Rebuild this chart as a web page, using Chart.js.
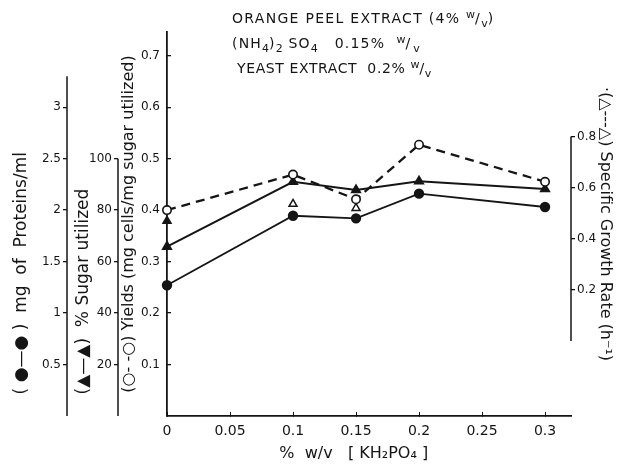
<!DOCTYPE html>
<html>
<head>
<meta charset="utf-8">
<script src="https://cdn.jsdelivr.net/npm/chart.js@4.4.1/dist/chart.umd.min.js"></script>
<style>
  body { margin: 0; background: #fff; }
  #wrap { position: relative; width: 621px; height: 465px; }
  #plot { position: absolute; left: 0; top: 0; }
  #note {
    position: absolute; left: 232px; top: 6px;
    font: 14px 'DejaVu Sans', sans-serif; color: #151515;
    line-height: 25px; white-space: nowrap;
  }
  #note sub, #note sup { font-size: 11px; line-height: 0; letter-spacing: 0; }
  #note sub { vertical-align: -4px; }
  #note sup { vertical-align: 5px; }
  .l1 { letter-spacing: 1.3px; }
  .l2 { letter-spacing: 1.2px; }
  .l2 sub { font-size: 12px; }
  .l3 { letter-spacing: 0.6px; }
  .wv { letter-spacing: 3px; }
</style>
</head>
<body>
<div id="wrap">
  <canvas id="plot" width="621" height="465"></canvas>
  <div id="note">
    <span class="l1">ORANGE PEEL EXTRACT (4% <sup>w</sup>/<sub>v</sub>)</span><br>
    <span class="l2">(NH<sub>4</sub>)<sub>2</sub> SO<sub>4</sub>&nbsp;&nbsp; 0.15%&nbsp; <span class="wv"><sup>w</sup>/<sub>v</sub></span></span><br>
    <span class="l3">&nbsp;YEAST EXTRACT&nbsp; 0.2% <sup>w</sup>/<sub>v</sub></span>
  </div>
</div>
<script>
const ink = '#151515';

// % w/v KH2PO4
const kh2po4 = [0, 0.1, 0.15, 0.2, 0.3];

// series
const yields = [0.40, 0.469, 0.421, 0.527, 0.455];      // mg cells / mg sugar utilized
const sugarUsed = [65.8, 91.0, 87.8, 91.2, 88.2];       // % sugar utilized
const proteins = [1.27, 1.945, 1.92, 2.16, 2.03];       // mg of proteins / ml
const growthRate = [0.47, 0.536, 0.52, null, null];     // specific growth rate, h-1

// tick labels
const xTicks = [0, 0.05, 0.1, 0.15, 0.2, 0.25, 0.3];
const yieldTicks = [0.1, 0.2, 0.3, 0.4, 0.5, 0.6, 0.7];
const sugarTicks = [20, 40, 60, 80, 100];
const proteinTicks = [0.5, 1, 1.5, 2, 2.5, 3];
const growthTicks = [0.2, 0.4, 0.6, 0.8];

const pts = vals => kh2po4.map((x, i) => ({ x: x, y: vals[i] }));
const setTicks = list => scale => { scale.ticks = list.map(v => ({ value: v })); };
const fixWidth = w => scale => { scale.width = w; };

const font = { family: 'DejaVu Sans', size: 12 };

// the left outer axes and the right axis only run over part of the height
const axisLines = {
  id: 'axisLines',
  afterDraw(chart) {
    const c = chart.ctx;
    c.save();
    c.strokeStyle = ink;
    c.lineWidth = 1.5;
    [['yP', 0, 3.3], ['yS', 0, 100], ['yG', 0, 0.8]].forEach(([id, lo, hi]) => {
      const s = chart.scales[id];
      const x = s.position === 'left' ? s.right : s.left;
      c.beginPath();
      c.moveTo(x, s.getPixelForValue(lo));
      c.lineTo(x, s.getPixelForValue(hi));
      c.stroke();
    });
    c.restore();
  }
};

function sideAxis(pos, weight, min, max, ticks, width, title, size, pad, align) {
  return {
    type: 'linear', position: pos, weight: weight, min: min, max: max,
    afterBuildTicks: setTicks(ticks),
    afterFit: fixWidth(width),
    border: { display: false },
    grid: { drawOnChartArea: false, tickLength: 4, tickColor: ink, lineWidth: 1.3 },
    ticks: { color: ink, font: font, padding: 2, callback: v => String(v) },
    title: {
      display: true, text: title, color: ink, align: align,
      font: { family: 'DejaVu Sans', size: size },
      padding: { top: pad, bottom: pad }
    }
  };
}

const yMax = 0.746;

// main yields axis: full-height line, tick marks pointing into the plot
const yieldAxis = sideAxis('left', 0, 0, yMax, yieldTicks, 49, '(○- -○) Yields (mg cells/mg sugar utilized)', 16, 1, 'center');
yieldAxis.border = { display: true, color: ink, width: 1.8 };
yieldAxis.grid.tickLength = -4;
yieldAxis.ticks.padding = 11;

new Chart(document.getElementById('plot'), {
  type: 'line',
  data: {
    datasets: [
      {
        label: 'Yields', yAxisID: 'y', data: pts(yields),
        borderColor: ink, borderWidth: 2.3, borderDash: [9, 6],
        pointRadius: 4.2, pointBorderWidth: 1.6, pointBackgroundColor: '#fff', pointBorderColor: ink,
        clip: false
      },
      {
        label: '% Sugar utilized', yAxisID: 'yS', data: pts(sugarUsed),
        borderColor: ink, borderWidth: 2,
        pointStyle: 'triangle', pointRadius: 4.6, pointBackgroundColor: ink, pointBorderColor: ink,
        clip: false
      },
      {
        label: 'mg of Proteins/ml', yAxisID: 'yP', data: pts(proteins),
        borderColor: ink, borderWidth: 1.8,
        pointRadius: 4.3, pointBackgroundColor: ink, pointBorderColor: ink,
        clip: false
      },
      {
        label: 'Specific Growth Rate', yAxisID: 'yG', data: pts(growthRate),
        showLine: false, borderColor: ink,
        pointStyle: 'triangle', pointRadius: 4.6, pointBorderWidth: 1.5,
        pointBackgroundColor: [ink, '#fff', '#fff', '#fff', '#fff'], pointBorderColor: ink,
        clip: false
      }
    ]
  },
  options: {
    responsive: false,
    animation: false,
    devicePixelRatio: 1,
    layout: { padding: { top: 32, left: 0, right: 0, bottom: 0 } },
    plugins: { legend: { display: false }, tooltip: { enabled: false } },
    scales: {
      x: {
        type: 'linear', min: 0, max: 0.3206,
        afterBuildTicks: setTicks(xTicks),
        afterFit: scale => { scale.height = 49; },
        border: { display: true, color: ink, width: 1.8 },
        grid: { drawOnChartArea: false, tickLength: -4, tickColor: ink },
        ticks: { color: ink, font: { family: 'DejaVu Sans', size: 14 }, padding: 11, maxRotation: 0, callback: v => String(v) },
        title: {
          display: true, text: '%  w/v   [ KH₂PO₄ ]      ', color: ink,
          font: { family: 'DejaVu Sans', size: 16 }, padding: { top: 0, bottom: 2 }
        }
      },
      y: yieldAxis,
      yS: sideAxis('left', 1, 0, yMax * 200, sugarTicks, 51, '    (▲—▲)  % Sugar utilized', 17, 6, 'start'),
      yP: sideAxis('left', 2, 0, yMax * 5, proteinTicks, 67, '    ( ●—● )  mg  of  Proteins/ml', 17, 11, 'start'),
      yG: sideAxis('right', 0, -0.2935, 1.209, growthTicks, 50, '·(△---△) Specific Growth Rate (h⁻¹)', 16, 6, 'center')
    }
  },
  plugins: [axisLines]
});
</script>
</body>
</html>
